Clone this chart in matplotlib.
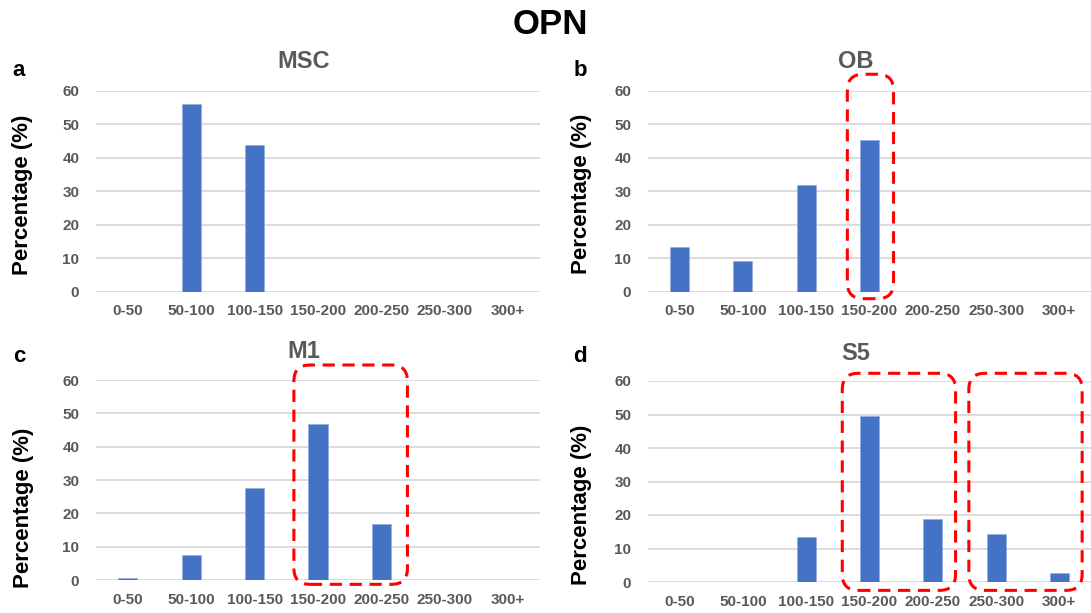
import matplotlib
matplotlib.use("Agg")
import matplotlib.pyplot as plt
from matplotlib.patches import FancyBboxPatch

plt.rcParams['font.family'] = ['Liberation Sans', 'DejaVu Sans']

# size bins (nm) shared by all panels
bins = ['0-50', '50-100', '100-150', '150-200', '200-250', '250-300', '300+']

# percentage per bin for each cell type
msc = [0, 56.2, 43.8, 0, 0, 0, 0]
ob = [13.4, 9.2, 31.8, 45.5, 0, 0, 0]
m1 = [0.7, 7.5, 27.7, 46.7, 16.7, 0, 0]
s5 = [0, 0, 13.4, 49.6, 18.9, 14.3, 2.8]

titles = ['MSC', 'OB', 'M1', 'S5']
letters = ['a', 'b', 'c', 'd']
panel_data = [msc, ob, m1, s5]

# highlighted bin ranges per panel: (first bin, last bin)
highlights = [[], [(3, 3)], [(3, 4)], [(3, 4), (5, 6)]]

BAR = '#4472C4'
GRID = '#D9D9D9'
GREY = '#595959'

W, H = 1091, 613
fig = plt.figure(figsize=(W / 100, H / 100), dpi=100)

# axes placement in pixels: left, right, top(60), bottom(0)
boxes = [(96, 540, 91, 292), (648, 1091, 91, 292),
         (96, 540, 380, 580), (648, 1091, 381, 582)]
label_pos = [(19, 71), (580, 71), (19, 357), (580, 356)]
title_pos = [(304, 62), (856, 62), (304, 351), (856, 353)]
ylab_pos = [(23, 195), (581, 194), (24, 508), (581, 505)]

axes = []
for k, (l, r, t, b) in enumerate(boxes):
    ax = fig.add_axes([l / W, 1 - b / H, (r - l) / W, (b - t) / H])
    x = range(len(bins))
    ax.bar(x, panel_data[k], width=0.3, color=BAR, zorder=3,
           edgecolor='#8FA9DC', linewidth=0.4)
    ax.set_xlim(-0.5, len(bins) - 0.5)
    ax.set_ylim(0, 60)
    ax.set_yticks(range(0, 61, 10))
    ax.set_xticks(list(x))
    ax.set_xticklabels(bins)
    ax.yaxis.grid(True, color=GRID, linewidth=1.3, zorder=0)
    for s in ax.spines.values():
        s.set_visible(False)
    ax.tick_params(axis='both', length=0, labelsize=11, labelcolor=GREY)
    ax.tick_params(axis='x', pad=9)
    ax.tick_params(axis='y', pad=12)
    for lab in ax.get_xticklabels() + ax.get_yticklabels():
        lab.set_fontweight('bold')
    axes.append(ax)

    fig.text(label_pos[k][0] / W, 1 - label_pos[k][1] / H, letters[k],
             fontsize=16, fontweight='bold', ha='center', va='center')
    fig.text(title_pos[k][0] / W, 1 - title_pos[k][1] / H, titles[k],
             fontsize=17, fontweight='bold', color=GREY, ha='center', va='center')
    fig.text(ylab_pos[k][0] / W, 1 - ylab_pos[k][1] / H, 'Percentage (%)',
             fontsize=16, fontweight='bold', rotation=90, ha='center', va='center')

fig.text(550 / W, 1 - 25 / H, 'OPN', fontsize=25, fontweight='bold',
         ha='center', va='center')

# red dashed rounded boxes around highlighted bins
box_extent = {1: (-0.35, 0.38, -2.0, 65.0), 2: (-0.38, 0.41, -1.3, 64.5),
              3: (-0.43, 0.36, -2.5, 62.3)}
to_fig = fig.transFigure.inverted()
for k, groups in enumerate(highlights):
    if not groups:
        continue
    dl, dr, y0, y1 = box_extent[k]
    ax = axes[k]
    for i0, i1 in groups:
        p0 = to_fig.transform(ax.transData.transform((i0 + dl, y0)))
        p1 = to_fig.transform(ax.transData.transform((i1 + dr, y1)))
        rect = FancyBboxPatch((p0[0], p0[1]), p1[0] - p0[0], p1[1] - p0[1],
                              boxstyle='round,pad=0,rounding_size=%f' % (16 / W),
                              mutation_aspect=W / H, transform=fig.transFigure,
                              facecolor='none', edgecolor='#FF0000',
                              linewidth=2.2, linestyle=(0, (4, 2.5)), zorder=10)
        fig.add_artist(rect)

fig.savefig('out.png', dpi=100)
